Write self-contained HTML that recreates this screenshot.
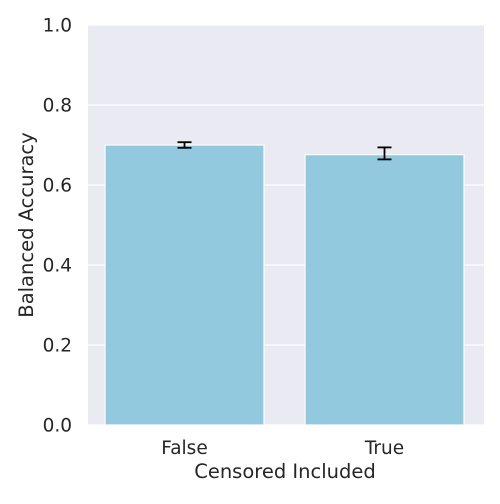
<!DOCTYPE html>
<html><head><meta charset="utf-8"><style>
body{margin:0;background:#fff;font-family:"DejaVu Sans","Liberation Sans",sans-serif;}
</style></head><body>
<svg id="chart" width="500" height="500" xmlns="http://www.w3.org/2000/svg" font-family="DejaVu Sans, Liberation Sans, sans-serif">
<rect x="88" y="25" width="396" height="400" fill="#eaeaf2"/>
<g id="grid"></g><g id="bars"></g><g id="axes"></g>
</svg>
<script>
const categories=["False","True"];
const values=[0.70,0.676];
const errLow=[0.693,0.664];
const errHigh=[0.707,0.694];
const yTicks=[0,0.2,0.4,0.6,0.8,1.0];
const yTickLabels=["0.0","0.2","0.4","0.6","0.8","1.0"];
const NS="http://www.w3.org/2000/svg";
const y=v=>425-v*400;
const xc=i=>84.5+(i+0.5)*200;
const bw=159;
function mk(t,a,p){const e=document.createElementNS(NS,t);for(const k in a)e.setAttribute(k,a[k]);p.appendChild(e);return e;}
const grid=document.getElementById('grid'),bars=document.getElementById('bars'),axes=document.getElementById('axes');
yTicks.forEach((t,i)=>{
 const l=mk('line',{x1:88,x2:484,y1:y(t),y2:y(t),stroke:'#fff','stroke-width':1.2},grid);
 
 
 const tx=mk('text',{x:72,y:y(t)+6.5,'text-anchor':'end','font-size':18.5,fill:'#262626'},axes);
 tx.textContent=yTickLabels[i];
 
 
});
categories.forEach((c,i)=>{
 const r=mk('rect',{x:xc(i)-bw/2,y:y(values[i]),width:bw,height:y(0)-y(values[i]),fill:'#92c9df',stroke:'#fff','stroke-width':1.2},bars);
 
 
 const g=mk('g',{stroke:'#000','stroke-width':1.8},bars);
 
 
 mk('line',{x1:xc(i),x2:xc(i),y1:y(errLow[i]),y2:y(errHigh[i])},g);
 mk('line',{x1:xc(i)-7,x2:xc(i)+7,y1:y(errLow[i]),y2:y(errLow[i])},g);
 mk('line',{x1:xc(i)-7,x2:xc(i)+7,y1:y(errHigh[i]),y2:y(errHigh[i])},g);
 const tx=mk('text',{x:xc(i),y:454,'text-anchor':'middle','font-size':18.5,fill:'#262626'},axes);
 tx.textContent=c;
 
 
});
const xt=mk('text',{x:285,y:478,'text-anchor':'middle','font-size':19.5,fill:'#262626'},axes);
xt.textContent='Censored Included';


const yt=mk('text',{x:0,y:0,'text-anchor':'middle','font-size':19.5,fill:'#262626',transform:'translate(33,225) rotate(-90)'},axes);
yt.textContent='Balanced Accuracy';


</script>
</body></html>
